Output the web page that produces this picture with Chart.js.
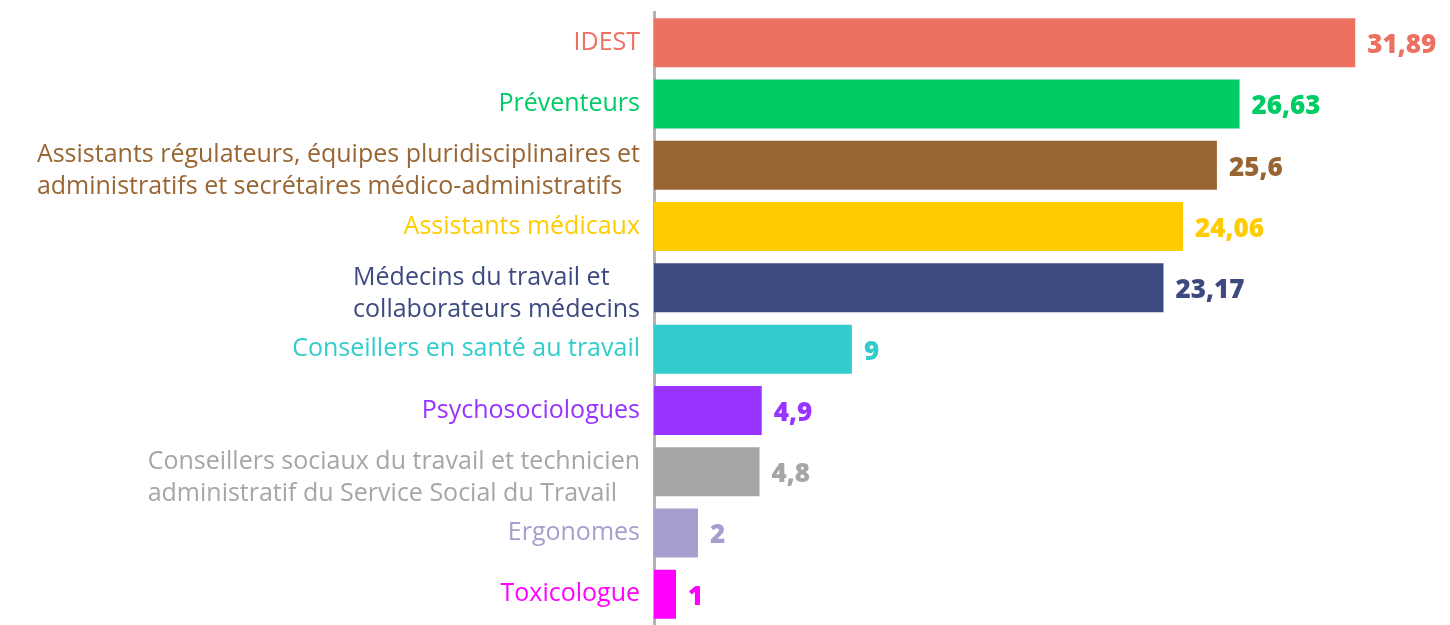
<!DOCTYPE html>
<html>
<head>
<meta charset="utf-8">
<script src="https://cdn.jsdelivr.net/npm/chart.js"></script>
<style>
  html, body { margin: 0; padding: 0; background: #fff; }
  .chart-container { position: relative; width: 1450px; height: 625px; }
</style>
</head>
<body>
<div class="chart-container"><canvas id="chart" width="1450" height="625"></canvas></div>
<script>
// Categories (multi-line labels as arrays)
const categories = [
  'IDEST',
  'Préventeurs',
  ['Assistants régulateurs, équipes pluridisciplinaires et', 'administratifs et secrétaires médico-administratifs'],
  'Assistants médicaux',
  ['Médecins du travail et', 'collaborateurs médecins'],
  'Conseillers en santé au travail',
  'Psychosociologues',
  ['Conseillers sociaux du travail et technicien', 'administratif du Service Social du Travail'],
  'Ergonomes',
  'Toxicologue',
];
const values = [31.89, 26.63, 25.6, 24.06, 23.17, 9, 4.9, 4.8, 2, 1];
const colors = [
  '#ED7161', '#00CC66', '#996633', '#FFCC00', '#3D4A80',
  '#33CCCC', '#9933FF', '#A6A6A6', '#A69ECE', '#FF00FF',
];

const FONT = '"Open Sans", "Noto Sans", sans-serif';
const LABEL_SIZE = 25;
const LINE_H = 32;

// category labels: block right-aligned to the axis, lines left-aligned inside
const categoryLabels = {
  id: 'categoryLabels',
  afterDraw(chart) {
    const ctx = chart.ctx;
    const scale = chart.scales.y;
    const right = scale.right - 14;
    ctx.save();
    ctx.font = `${LABEL_SIZE}px ${FONT}`;
    ctx.textAlign = 'left';
    ctx.textBaseline = 'middle';
    categories.forEach((label, i) => {
      const lines = Array.isArray(label) ? label : [label];
      const w = Math.max(...lines.map(l => ctx.measureText(l).width));
      const y = scale.getPixelForTick(i) + (lines.length > 1 ? 6 : 0);
      const y0 = y - (lines.length - 1) * LINE_H / 2;
      ctx.fillStyle = colors[i];
      lines.forEach((l, j) => ctx.fillText(l, right - w, y0 + j * LINE_H));
    });
    ctx.restore();
  },
};

// value labels after each bar
const valueLabels = {
  id: 'valueLabels',
  afterDatasetsDraw(chart) {
    const ctx = chart.ctx;
    const meta = chart.getDatasetMeta(0);
    ctx.save();
    ctx.font = `800 26px ${FONT}`;
    ctx.textAlign = 'left';
    ctx.textBaseline = 'middle';
    meta.data.forEach((bar, i) => {
      ctx.fillStyle = colors[i];
      ctx.fillText(String(values[i]).replace('.', ','), bar.x + 12, bar.y + 3);
    });
    ctx.restore();
  },
};

new Chart(document.getElementById('chart'), {
  type: 'bar',
  data: {
    labels: categories,
    datasets: [{
      data: values,
      backgroundColor: colors,
      borderWidth: 0,
      barPercentage: 0.8,
      categoryPercentage: 1,
    }],
  },
  options: {
    indexAxis: 'y',
    responsive: false,
    animation: false,
    devicePixelRatio: 1,
    layout: { padding: { top: 12, right: 0, bottom: 0, left: 0 } },
    plugins: { legend: { display: false }, tooltip: { enabled: false } },
    scales: {
      x: { display: false, min: 0, max: 36.2 },
      y: {
        afterFit: scale => {
          scale.width = 654;
          scale.paddingTop = 0;
          scale.paddingBottom = 0;
        },
        grid: { display: false, drawTicks: false },
        border: { display: true, color: '#B3B3B3', width: 3 },
        ticks: { display: false, autoSkip: false },
      },
    },
  },
  plugins: [valueLabels, categoryLabels],
});
</script>
</body>
</html>
